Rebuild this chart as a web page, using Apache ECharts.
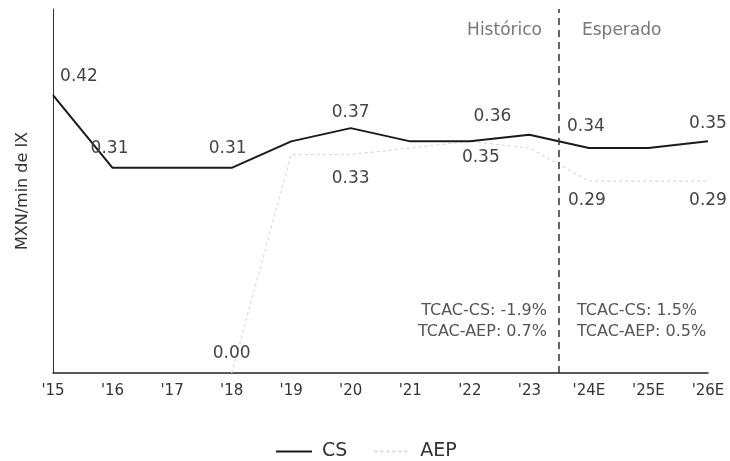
<!DOCTYPE html>
<html>
<head>
<meta charset="utf-8">
<script src="https://cdn.jsdelivr.net/npm/echarts@6/dist/echarts.min.js"></script>
<style>
  html, body { margin: 0; padding: 0; background: #fff; }
  #chart { width: 730px; height: 461px; }
</style>
</head>
<body>
<div id="chart"></div>
<script>
// Years on the horizontal axis (E = estimate)
const years = ["'15", "'16", "'17", "'18", "'19", "'20", "'21", "'22", "'23", "'24E", "'25E", "'26E"];

// Price per minute of interconnection, MXN
const csValues  = [0.42, 0.31, 0.31, 0.31, 0.35, 0.37, 0.35, 0.35, 0.36, 0.34, 0.34, 0.35];
const aepValues = [null, null, null, 0.00, 0.33, 0.33, 0.34, 0.35, 0.34, 0.29, 0.29, 0.29];

// Which points carry a value label, and where the label sits around the point
const csLabelOffsets  = { 0: [26, -18], 1: [-3, -19], 3: [-4, -19], 5: [0, -16], 8: [-37, -18], 9: [-3, -21], 11: [0, -18] };
const aepLabelOffsets = { 3: [0, -19], 5: [0, 24], 7: [11, 16], 9: [-2, 20], 11: [0, 20] };

// Split between historical and expected years (between '23 and '24E)
const splitPosition = 8.5;

// Compound annual growth notes
const cagrHistoric = ['TCAC-CS: -1.9%', 'TCAC-AEP: 0.7%'];
const cagrExpected = ['TCAC-CS: 1.5%', 'TCAC-AEP: 0.5%'];

const FONT = 'DejaVu Sans';

function withLabels(values, offsets) {
  return values.map((v, i) => {
    const off = offsets[i];
    return {
      value: v,
      label: off ? {
        show: true,
        position: 'inside',
        offset: off,
        formatter: (p) => p.value.toFixed(2)
      } : { show: false }
    };
  });
}

const chart = echarts.init(document.getElementById('chart'), null, { renderer: 'canvas' });

chart.setOption({
  animation: false,
  backgroundColor: '#ffffff',
  textStyle: { fontFamily: FONT },
  grid: { left: 53, right: 22, top: 9, bottom: 88, containLabel: false },
  legend: {
    data: ['CS', 'AEP'],
    left: 270,
    top: 437,
    itemWidth: 36,
    itemHeight: 12,
    itemGap: 26,
    textStyle: { fontFamily: FONT, fontSize: 19, color: '#333', padding: [0, 0, 0, 5] }
  },
  xAxis: [
    {
      type: 'category',
      data: years,
      boundaryGap: false,
      axisLine: { show: true, lineStyle: { color: '#222', width: 1.5 } },
      axisTick: { show: false },
      axisLabel: { fontFamily: FONT, fontSize: 15, color: '#333', margin: 11 },
      splitLine: { show: false }
    },
    {
      type: 'value',
      min: 0,
      max: years.length - 1,
      show: false
    }
  ],
  yAxis: {
    type: 'value',
    min: 0,
    max: 0.55,
    name: 'MXN/min de IX',
    nameLocation: 'middle',
    nameGap: 22,
    nameTextStyle: { fontFamily: FONT, fontSize: 16, color: '#333' },
    axisLine: { show: true, lineStyle: { color: '#333', width: 1 } },
    axisTick: { show: false },
    axisLabel: { show: false },
    splitLine: { show: false }
  },
  series: [
    {
      name: 'AEP',
      type: 'line',
      data: withLabels(aepValues, aepLabelOffsets),
      symbol: 'circle',
      symbolSize: 2,
      itemStyle: { color: 'rgba(0,0,0,0)', borderWidth: 0 },
      lineStyle: { color: '#dadada', width: 1.2, type: [3, 3] },
      label: { fontFamily: FONT, fontSize: 17, color: '#444' },
      z: 2
    },
    {
      name: 'CS',
      type: 'line',
      data: withLabels(csValues, csLabelOffsets),
      symbol: 'circle',
      symbolSize: 2,
      itemStyle: { color: 'rgba(0,0,0,0)', borderWidth: 0 },
      lineStyle: { color: '#1a1a1a', width: 2 },
      label: { fontFamily: FONT, fontSize: 17, color: '#444' },
      z: 3
    },
    {
      name: 'split',
      type: 'line',
      xAxisIndex: 1,
      data: [],
      silent: true,
      markLine: {
        silent: true,
        symbol: 'none',
        label: { show: false },
        lineStyle: { color: '#333', width: 1.5, type: [7, 5] },
        data: [{ xAxis: splitPosition }]
      }
    }
  ],
  graphic: [
    {
      type: 'text', x: 542, y: 31,
      style: { text: 'Histórico', font: '17px "DejaVu Sans"', fill: '#777', align: 'right', verticalAlign: 'middle' }
    },
    {
      type: 'text', x: 582, y: 31,
      style: { text: 'Esperado', font: '17px "DejaVu Sans"', fill: '#777', align: 'left', verticalAlign: 'middle' }
    },
    {
      type: 'text', x: 547, y: 300,
      style: { text: cagrHistoric.join('\n'), font: '16px "DejaVu Sans"', lineHeight: 21, fill: '#555', align: 'right', verticalAlign: 'top' }
    },
    {
      type: 'text', x: 577, y: 300,
      style: { text: cagrExpected.join('\n'), font: '16px "DejaVu Sans"', lineHeight: 21, fill: '#555', align: 'left', verticalAlign: 'top' }
    }
  ]
});
</script>
</body>
</html>
